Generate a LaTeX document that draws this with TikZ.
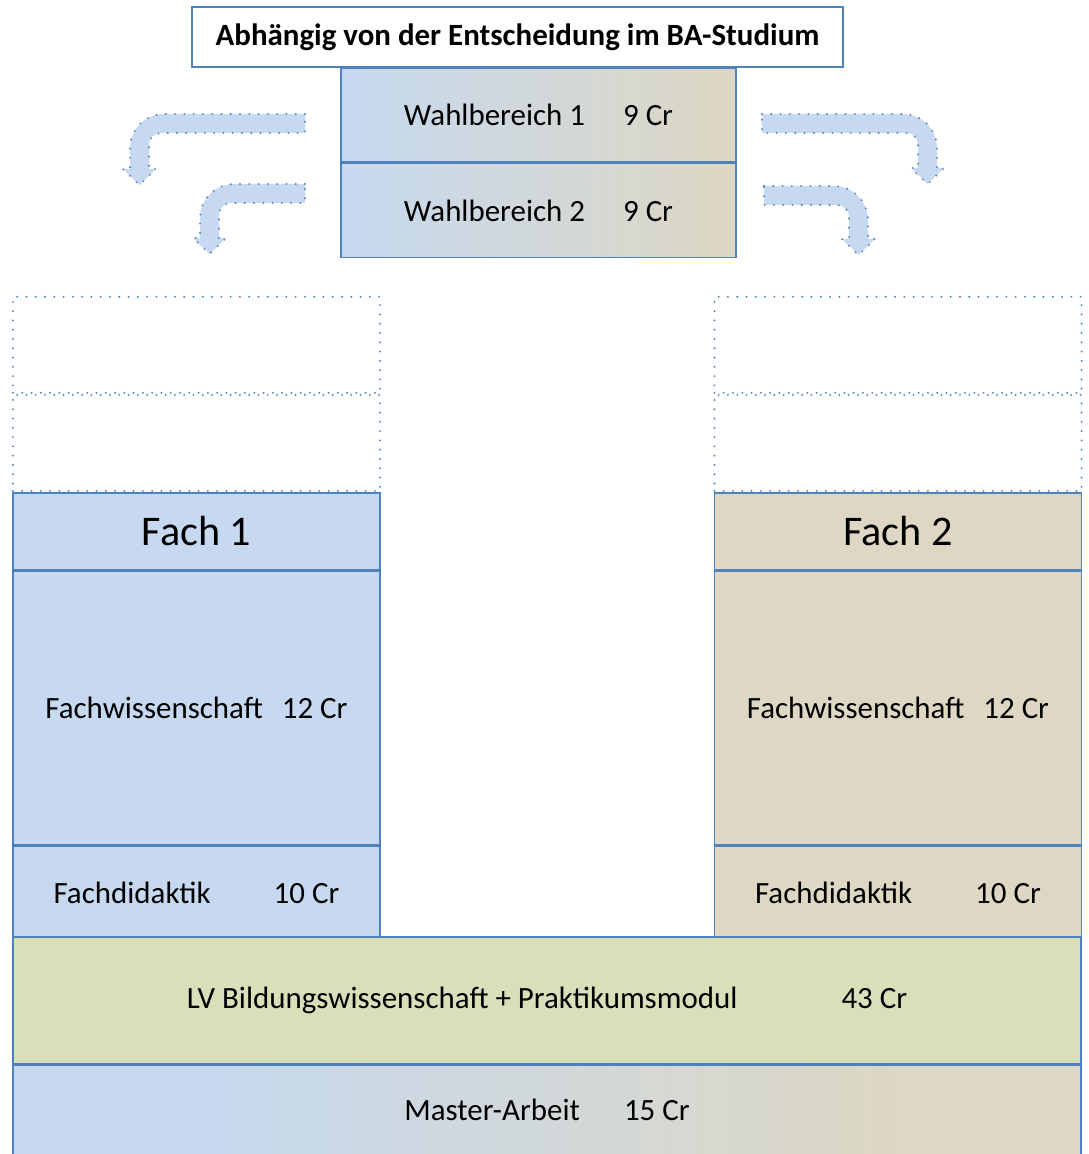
\documentclass[tikz,border=0pt]{standalone}
\usepackage{fontspec}
\setmainfont{Carlito}
\usetikzlibrary{positioning}
\definecolor{rim}{RGB}{79,129,189}
\definecolor{fblue}{RGB}{198,217,240}
\definecolor{ftan}{RGB}{221,215,195}
\definecolor{fgreen}{RGB}{216,224,186}
\pgfdeclarehorizontalshading{mastershade}{100bp}{color(0bp)=(fblue); color(33bp)=(fblue); color(67bp)=(ftan); color(100bp)=(ftan)}
\tikzstyle{modbox} = [rectangle, draw=rim, line width=1.2pt, minimum width=9.175cm, inner sep=0pt, font=\fontsize{22}{26}\selectfont]
\tikzstyle{blankbox} = [rectangle, draw=rim, line width=1.5pt, dash pattern=on 0pt off 6.6pt, line cap=round, minimum width=9.175cm, minimum height=2.4cm]
\tikzstyle{turn} = [fill=fblue, draw=rim, line width=1.5pt, dash pattern=on 0pt off 6.6pt, line cap=round]
% bent arrow: #1 corner, #2 mirror, #3 shaft length, #4 drop
\newcommand{\turnarrow}[4]{%
  \begin{scope}[shift={#1}, xscale=#2]
    \draw[turn] (#3,0) -- (35,0) .. controls (15,0) and (0,15) .. (0,35) -- (0,#4) -- (-7,#4) -- (9.5,#4+16) -- (26,#4) -- (19,#4) -- (19,31) .. controls (19,24) and (24,19) .. (31,19) -- (#3,19) -- cycle;
  \end{scope}}

\begin{document}
\begin{tikzpicture}[x=0.025cm, y=-0.025cm]
      \clip (0,0) rectangle (1088,1154);

      % top
      \node (title) [modbox, fill=white, minimum width=16.275cm, minimum height=1.5cm, font=\bfseries\fontsize{22}{26}\selectfont] at (517.5,37) {Abhängig von der Entscheidung im BA-Studium};
      \node (wb1) [modbox, left color=fblue, right color=ftan, minimum width=9.875cm, minimum height=2.35cm, anchor=north] at (538.5,67) {Wahlbereich 1\hspace{0.95cm}9 Cr};
      \node (wb2) [modbox, left color=fblue, right color=ftan, minimum width=9.875cm, minimum height=2.35cm, below=0pt of wb1] {Wahlbereich 2\hspace{0.95cm}9 Cr};

      % Fach 1
      \node (fach1) [modbox, fill=fblue, minimum height=1.925cm, anchor=north, font=\fontsize{30}{36}\selectfont] at (196.5,492) {Fach 1};
      \node (fw1) [modbox, fill=fblue, minimum height=6.825cm, below=0pt of fach1] {Fachwissenschaft\hspace{0.475cm}12 Cr};
      \node (fd1) [modbox, fill=fblue, minimum height=2.35cm, below=0pt of fw1] {Fachdidaktik\hspace{1.575cm}10 Cr};
      \node (slot1b) [blankbox, above=0pt of fach1] {};
      \node (slot1a) [blankbox, above=0pt of slot1b] {};

      % Fach 2
      \node (fach2) [modbox, fill=ftan, minimum height=1.925cm, anchor=north, font=\fontsize{30}{36}\selectfont] at (898,492) {Fach 2};
      \node (fw2) [modbox, fill=ftan, minimum height=6.825cm, below=0pt of fach2] {Fachwissenschaft\hspace{0.475cm}12 Cr};
      \node (fd2) [modbox, fill=ftan, minimum height=2.35cm, below=0pt of fw2] {Fachdidaktik\hspace{1.575cm}10 Cr};
      \node (slot2b) [blankbox, above=0pt of fach2] {};
      \node (slot2a) [blankbox, above=0pt of slot2b] {};

      % bottom
      \node (lv) [modbox, fill=fgreen, minimum width=26.7cm, minimum height=3.175cm, anchor=north] at (547,936) {LV Bildungswissenschaft + Praktikumsmodul\hspace{2.6cm}43 Cr};
      \node (ma) [modbox, shade, shading=mastershade, minimum width=26.7cm, minimum height=3.1cm, below=0pt of lv, text depth=0.9cm] {Master-Arbeit\hspace{1.1cm}15 Cr};

      % arrows
      \turnarrow{(130,114)}{1}{175}{55}
      \turnarrow{(200,184)}{1}{105}{54}
      \turnarrow{(937,114)}{-1}{175}{54}
      \turnarrow{(868,186)}{-1}{104}{53}
\end{tikzpicture}
\end{document}
